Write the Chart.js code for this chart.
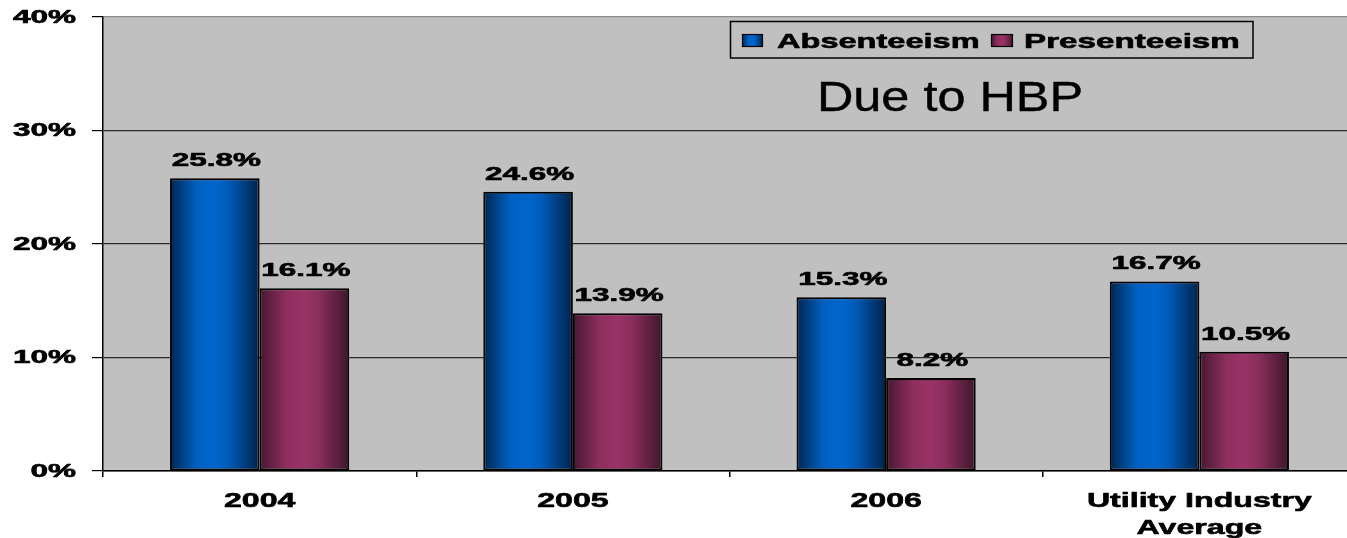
<!DOCTYPE html>
<html><head><meta charset="utf-8">
<script src="https://cdn.jsdelivr.net/npm/chart.js@4/dist/chart.umd.min.js"></script>
<style>
html,body{margin:0;padding:0;background:#fff;overflow:hidden;}
#wrap{width:1356px;height:538px;position:relative;}
</style></head><body>
<div id="wrap"><canvas id="c" width="1356" height="538"></canvas></div>
<script>
const categories = [["2004"], ["2005"], ["2006"], ["Utility Industry", "Average"]];
const absenteeism = [25.8, 24.6, 15.3, 16.7];
const presenteeism = [16.1, 13.9, 8.2, 10.5];
const seriesNames = ["Absenteeism", "Presenteeism"];
const yTickValues = [0, 10, 20, 30, 40];
const chartTitle = "Due to HBP";

const CAT_PCT = 0.572;
const FONT = '"Liberation Sans", Arial, sans-serif';
const blueStops = [[0, '#00264f'], [0.3, '#0060c2'], [0.5, '#0066cc'], [0.66, '#005ab6'], [1, '#00224a']];
const purpleStops = [[0, '#451832'], [0.3, '#8e2f5e'], [0.5, '#993366'], [0.66, '#8a2e5c'], [1, '#3e162c']];

function makeGrad(ctx, left, width, stops) {
  const g = ctx.createLinearGradient(left, 0, left + width, 0);
  stops.forEach(s => g.addColorStop(s[0], s[1]));
  return g;
}
function barFill(stops, fallback) {
  return (c) => {
    const chart = c.chart, xs = chart.scales && chart.scales.x;
    if (!xs || !xs.width || c.type !== 'data') return fallback;
    const catW = xs.width / categories.length;
    const bw = catW * CAT_PCT / 2;
    const center = xs.getPixelForValue(c.dataIndex);
    const left = c.datasetIndex === 0 ? center - bw : center;
    return makeGrad(chart.ctx, left, bw, stops);
  };
}
function sText(ctx, text, x, y, font, sx, align, baseline, weight) {
  ctx.save();
  ctx.font = font; ctx.fillStyle = '#000'; ctx.strokeStyle = '#000';
  ctx.textAlign = align; ctx.textBaseline = baseline || 'alphabetic';
  ctx.translate(x, y); ctx.scale(sx, 1);
  ctx.fillText(text, 0, 0);
  if (weight) { ctx.lineWidth = weight; ctx.lineJoin = 'round'; ctx.strokeText(text, 0, 0); }
  ctx.restore();
}

const plotBg = {
  id: 'plotBg',
  beforeDraw(chart) {
    const { ctx, chartArea: a } = chart;
    ctx.save(); ctx.fillStyle = '#c0c0c0';
    ctx.fillRect(a.left, a.top, a.right - a.left, a.bottom - a.top);
    ctx.restore();
  }
};

const textLayer = {
  id: 'textLayer',
  afterDraw(chart) {
    const ctx = chart.ctx, xs = chart.scales.x, ys = chart.scales.y;
    yTickValues.forEach(v => {
      sText(ctx, v + '%', 76, ys.getPixelForValue(v) + 1, 'bold 18px ' + FONT, 1.75, 'right', 'middle', 0.6);
    });
    categories.forEach((lines, i) => {
      const cx = xs.getPixelForValue(i);
      lines.forEach((ln, k) => {
        sText(ctx, ln, cx, 507 + k * 27, 'bold 21px ' + FONT, 1.53, 'center', 'alphabetic', 0.6);
      });
    });
    chart.data.datasets.forEach((ds, di) => {
      const meta = chart.getDatasetMeta(di);
      meta.data.forEach((bar, i) => {
        sText(ctx, ds.data[i].toFixed(1) + '%', bar.x + 1.5, bar.y - 12, 'bold 18.5px ' + FONT, 1.7, 'center', 'alphabetic', 0.6);
      });
    });
    ctx.save();
    ctx.strokeStyle = '#000'; ctx.lineWidth = 1.5;
    ctx.strokeRect(730.5, 21.5, 522.5, 36.5);
    const sw = [[742, 21, blueStops], [991, 22, purpleStops]];
    sw.forEach(s => {
      ctx.fillStyle = makeGrad(ctx, s[0], s[1], s[2]);
      ctx.fillRect(s[0], 34, s[1], 13);
      ctx.lineWidth = 1.2; ctx.strokeRect(s[0] + 0.5, 34.5, s[1] - 1, 12);
    });
    ctx.restore();
    sText(ctx, seriesNames[0], 777, 48, 'bold 21px ' + FONT, 1.55, 'left', 'alphabetic', 0.6);
    sText(ctx, seriesNames[1], 1024, 48, 'bold 21px ' + FONT, 1.58, 'left', 'alphabetic', 0.6);
    sText(ctx, chartTitle, 950, 111, '42px ' + FONT, 1.2, 'center', 'alphabetic', 0.4);
  }
};

new Chart(document.getElementById('c'), {
  type: 'bar',
  data: {
    labels: categories,
    datasets: [
      { label: seriesNames[0], data: absenteeism, backgroundColor: barFill(blueStops, '#0066cc'),
        borderColor: '#000', borderWidth: 2, borderSkipped: false,
        categoryPercentage: CAT_PCT, barPercentage: 1 },
      { label: seriesNames[1], data: presenteeism, backgroundColor: barFill(purpleStops, '#993366'),
        borderColor: '#000', borderWidth: 2, borderSkipped: false,
        categoryPercentage: CAT_PCT, barPercentage: 1 }
    ]
  },
  options: {
    responsive: false,
    animation: false,
    devicePixelRatio: 1,
    layout: { padding: { left: 92, top: 17, right: 0, bottom: 61 } },
    plugins: { legend: { display: false }, tooltip: { enabled: false }, title: { display: false } },
    scales: {
      x: {
        offset: true,
        grid: { display: true, drawOnChartArea: false, drawTicks: true, tickLength: 6, color: '#000', lineWidth: 1.5, offset: true },
        border: { display: true, color: '#000', width: 1.5 },
        ticks: { display: false }
      },
      y: {
        min: 0, max: 40,
        ticks: { stepSize: 10, display: false },
        grid: { color: c => (c.tick && c.tick.value === 40) ? '#8c8c8c' : '#2a2a2a', tickColor: '#000', tickLength: 11, lineWidth: 1.2, drawTicks: true },
        border: { display: true, color: '#000', width: 1.5 }
      }
    }
  },
  plugins: [plotBg, textLayer]
});
</script>
</body></html>
